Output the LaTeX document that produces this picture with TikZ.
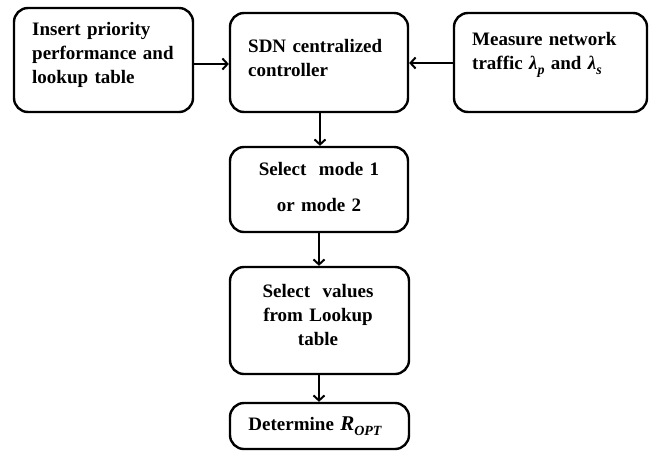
\documentclass[tikz,border=0pt]{standalone}
\usepackage{fontspec}
\setmainfont{Liberation Serif}
\usetikzlibrary{arrows.meta}
\newcommand{\sub}[1]{\raisebox{-0.28em}{\fontsize{14}{14}\selectfont\itshape #1}}
\tikzset{
  box/.style={draw=black, line width=2.4pt, rounded corners=14pt, inner sep=0pt},
  txt/.style={font=\fontsize{19}{24}\selectfont\bfseries, inner sep=0pt, text=black},
  flow/.style={line width=2pt, -{Straight Barb[length=5pt,width=11pt,line width=2pt]}}
}
\begin{document}
\begin{tikzpicture}[x=1pt, y=-1pt]
  \useasboundingbox (0,0) rectangle (656,451);

  % boxes
  \node[box, minimum width=179pt, minimum height=104pt] (b1) at (103.5,60) {};
  \node[box, minimum width=178pt, minimum height=99pt]  (b2) at (319,62.5) {};
  \node[box, minimum width=193pt, minimum height=99pt]  (b3) at (550.5,62.5) {};
  \node[box, minimum width=178pt, minimum height=85pt]  (b4) at (319,189.5) {};
  \node[box, minimum width=179pt, minimum height=107pt] (b5) at (319.5,320.5) {};
  \node[box, minimum width=179pt, minimum height=46pt]  (b6) at (319.5,426) {};

  % labels
  \node[txt, anchor=base west, text width=160pt, align=left] (t1) at (32,35)
    {Insert priority\\performance and\\lookup table};
  \node[txt, anchor=base west, text width=160pt, align=left] (t2) at (248,52)
    {SDN centralized\\controller};
  \node[txt, anchor=base west, text width=175pt, align=left] (t3) at (472,45)
    {Measure network\\traffic {\itshape λ}\sub{p} and {\itshape λ}\sub{s}};
  \node[txt, anchor=base, text width=170pt, align=center] (t4) at (319,175)
    {Select\ \ mode 1\\[12pt]or mode 2};
  \node[txt, anchor=base, text width=170pt, align=center] (t5) at (318,297)
    {Select\ \ values\\from Lookup\\table};
  \node[txt, anchor=base, text width=170pt, align=center] (t6) at (315,430)
    {Determine {\fontsize{21}{24}\selectfont\itshape R}\sub{OPT}};

  % connectors
  \draw[flow] (b1.east |- 0,64) -- (b2.west |- 0,64);
  \draw[flow] (b3.west |- 0,63) -- (b2.east |- 0,63);
  \draw[flow] (b2.south -| 320,0) -- (b4.north -| 320,0);
  \draw[flow] (b4.south -| 319,0) -- (b5.north -| 319,0);
  \draw[flow] (b5.south -| 319,0) -- (b6.north -| 319,0);
\end{tikzpicture}
\end{document}
